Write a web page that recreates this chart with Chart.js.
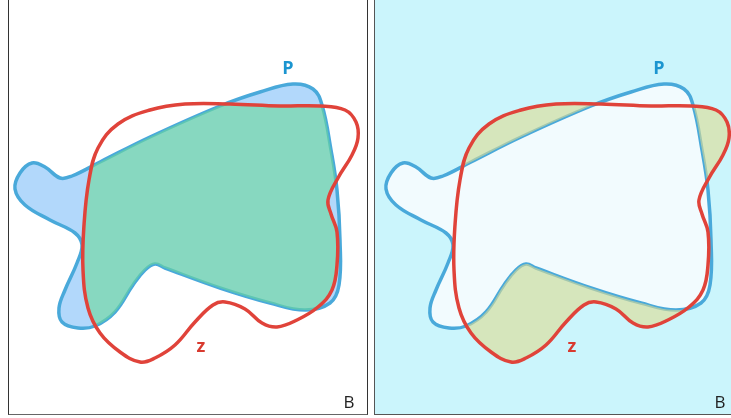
<!DOCTYPE html>
<html>
<head>
<meta charset="utf-8">
<script src="https://cdn.jsdelivr.net/npm/chart.js@4"></script>
<style>
  html, body { margin: 0; padding: 0; background: #fff; }
  body { width: 731px; height: 418px; position: relative; overflow: hidden; font-family: "Open Sans", sans-serif; }
  .panel { position: absolute; top: -2px; height: 417px; box-sizing: border-box; border: 1px solid #333; border-bottom-color: #666; }
  #panelA { left: 8px; width: 360px; background: #fff; }
  #panelB { left: 374px; width: 400px; background: #cbf5fc; border-color: #555; }
  canvas { position: absolute; top: 0; }
  #chartA { left: 0; }
  #chartB { left: 371px; }
  .lbl { position: absolute; font-weight: 700; font-size: 18px; line-height: 1; transform: translate(-50%, -50%); }
  .p { color: #1b95d0; }
  .z { color: #d83a2f; }
  .b { position: absolute; font-size: 17px; color: #222; line-height: 1; transform: translate(-50%, -50%); }
</style>
</head>
<body>
<div class="panel" id="panelA"></div>
<div class="panel" id="panelB"></div>
<canvas id="chartA" width="370" height="418"></canvas>
<canvas id="chartB" width="360" height="418"></canvas>
<div class="lbl p" style="left:288px;top:67px">P</div>
<div class="lbl z" style="left:201px;top:345px">z</div>
<div class="b" style="left:349px;top:401px">B</div>
<div class="lbl p" style="left:659px;top:67px">P</div>
<div class="lbl z" style="left:572px;top:345px">z</div>
<div class="b" style="left:720px;top:401px">B</div>
<script>
// outline of P (clockwise, closed)
const pX = [293, 313, 322, 331, 337, 340, 339, 330, 305, 270, 220, 165, 155, 145, 133, 115, 95, 78, 62, 59, 65, 77, 82, 75, 50, 25, 15, 20, 32, 45, 60, 72, 100, 150, 220, 260];
const pY = [84, 89, 105, 150, 190, 240, 285, 303, 310, 303, 288, 268, 264, 270, 285, 312, 326, 328, 322, 308, 290, 263, 245, 233, 220, 205, 189, 173, 163, 167, 178, 176, 162, 137, 106, 92];

// outline of z (clockwise, closed)
const zX = [150, 185, 230, 280, 320, 345, 356, 358, 352, 338, 328, 331, 337, 337, 332, 318, 297, 277, 262, 245, 225, 213, 195, 175, 155, 140, 120, 100, 88, 83, 84, 89, 98, 118];
const zY = [110, 104, 104, 106, 106, 110, 122, 138, 155, 178, 200, 214, 232, 265, 290, 307, 320, 327, 323, 309, 302, 305, 322, 345, 358, 362, 352, 333, 308, 270, 225, 180, 148, 124];

const toPts = (xs, ys) => xs.map((x, i) => ({x: x, y: ys[i]}));

// close the curves into smooth loops
const loopLines = {
  id: 'loopLines',
  beforeDatasetsUpdate(chart) {
    chart.data.datasets.forEach((d, i) => {
      const el = chart.getDatasetMeta(i).dataset;
      if (el) { el._loop = true; el._fullLoop = true; }
    });
  }
};

function shapePath(chart, i) {
  const el = chart.getDatasetMeta(i).dataset;
  el.updateControlPoints(chart.chartArea, 'x');
  return el;
}

function drawOverlay(chart, opts) {
  const ctx = chart.ctx;
  const p = shapePath(chart, 0), z = shapePath(chart, 1);
  ctx.save();
  ctx.beginPath();
  if (opts.mode === 'inside') {
    p.path(ctx);
    ctx.closePath();
    ctx.clip();
  } else {
    ctx.rect(0, 0, chart.width, chart.height);
    p.path(ctx);
    ctx.closePath();
    ctx.clip('evenodd');
  }
  ctx.beginPath();
  z.path(ctx);
  ctx.closePath();
  ctx.fillStyle = opts.overlay;
  ctx.fill();
  ctx.restore();
}

const regionFill = {
  id: 'regionFill',
  beforeDatasetsDraw(chart, args, opts) {
    const ctx = chart.ctx;
    const p = shapePath(chart, 0);
    ctx.save();
    ctx.beginPath();
    p.path(ctx);
    ctx.closePath();
    ctx.fillStyle = opts.base;
    ctx.fill();
    ctx.restore();
  },
  afterDatasetDraw(chart, args, opts) {
    if (opts.after === args.index) drawOverlay(chart, opts);
  }
};

function makeChart(id, width, fillOpts) {
  return new Chart(document.getElementById(id), {
    type: 'line',
    data: {
      datasets: [
        { label: 'P', data: toPts(pX, pY), borderColor: '#49a9da', borderWidth: 3.5, order: 2 },
        { label: 'z', data: toPts(zX, zY), borderColor: '#e0433a', borderWidth: 3.5, order: 1 }
      ]
    },
    options: {
      responsive: false,
      animation: false,
      devicePixelRatio: 1,
      layout: { padding: 0 },
      elements: {
        line: { tension: 0.4, fill: false, capBezierPoints: false },
        point: { radius: 0, hoverRadius: 0 }
      },
      scales: {
        x: { type: 'linear', min: 0, max: width, display: false },
        y: { type: 'linear', min: 0, max: 418, reverse: true, display: false }
      },
      plugins: {
        legend: { display: false },
        tooltip: { enabled: false },
        regionFill: fillOpts
      },
      events: []
    },
    plugins: [loopLines, regionFill]
  });
}

makeChart('chartA', 370, { base: '#b2d8fb', overlay: 'rgba(106,216,154,0.6)', mode: 'inside', after: 0 });
makeChart('chartB', 360, { base: '#f2fbfe', overlay: 'rgba(221,220,145,0.6)', mode: 'outside', after: 0 });
</script>
</body>
</html>
